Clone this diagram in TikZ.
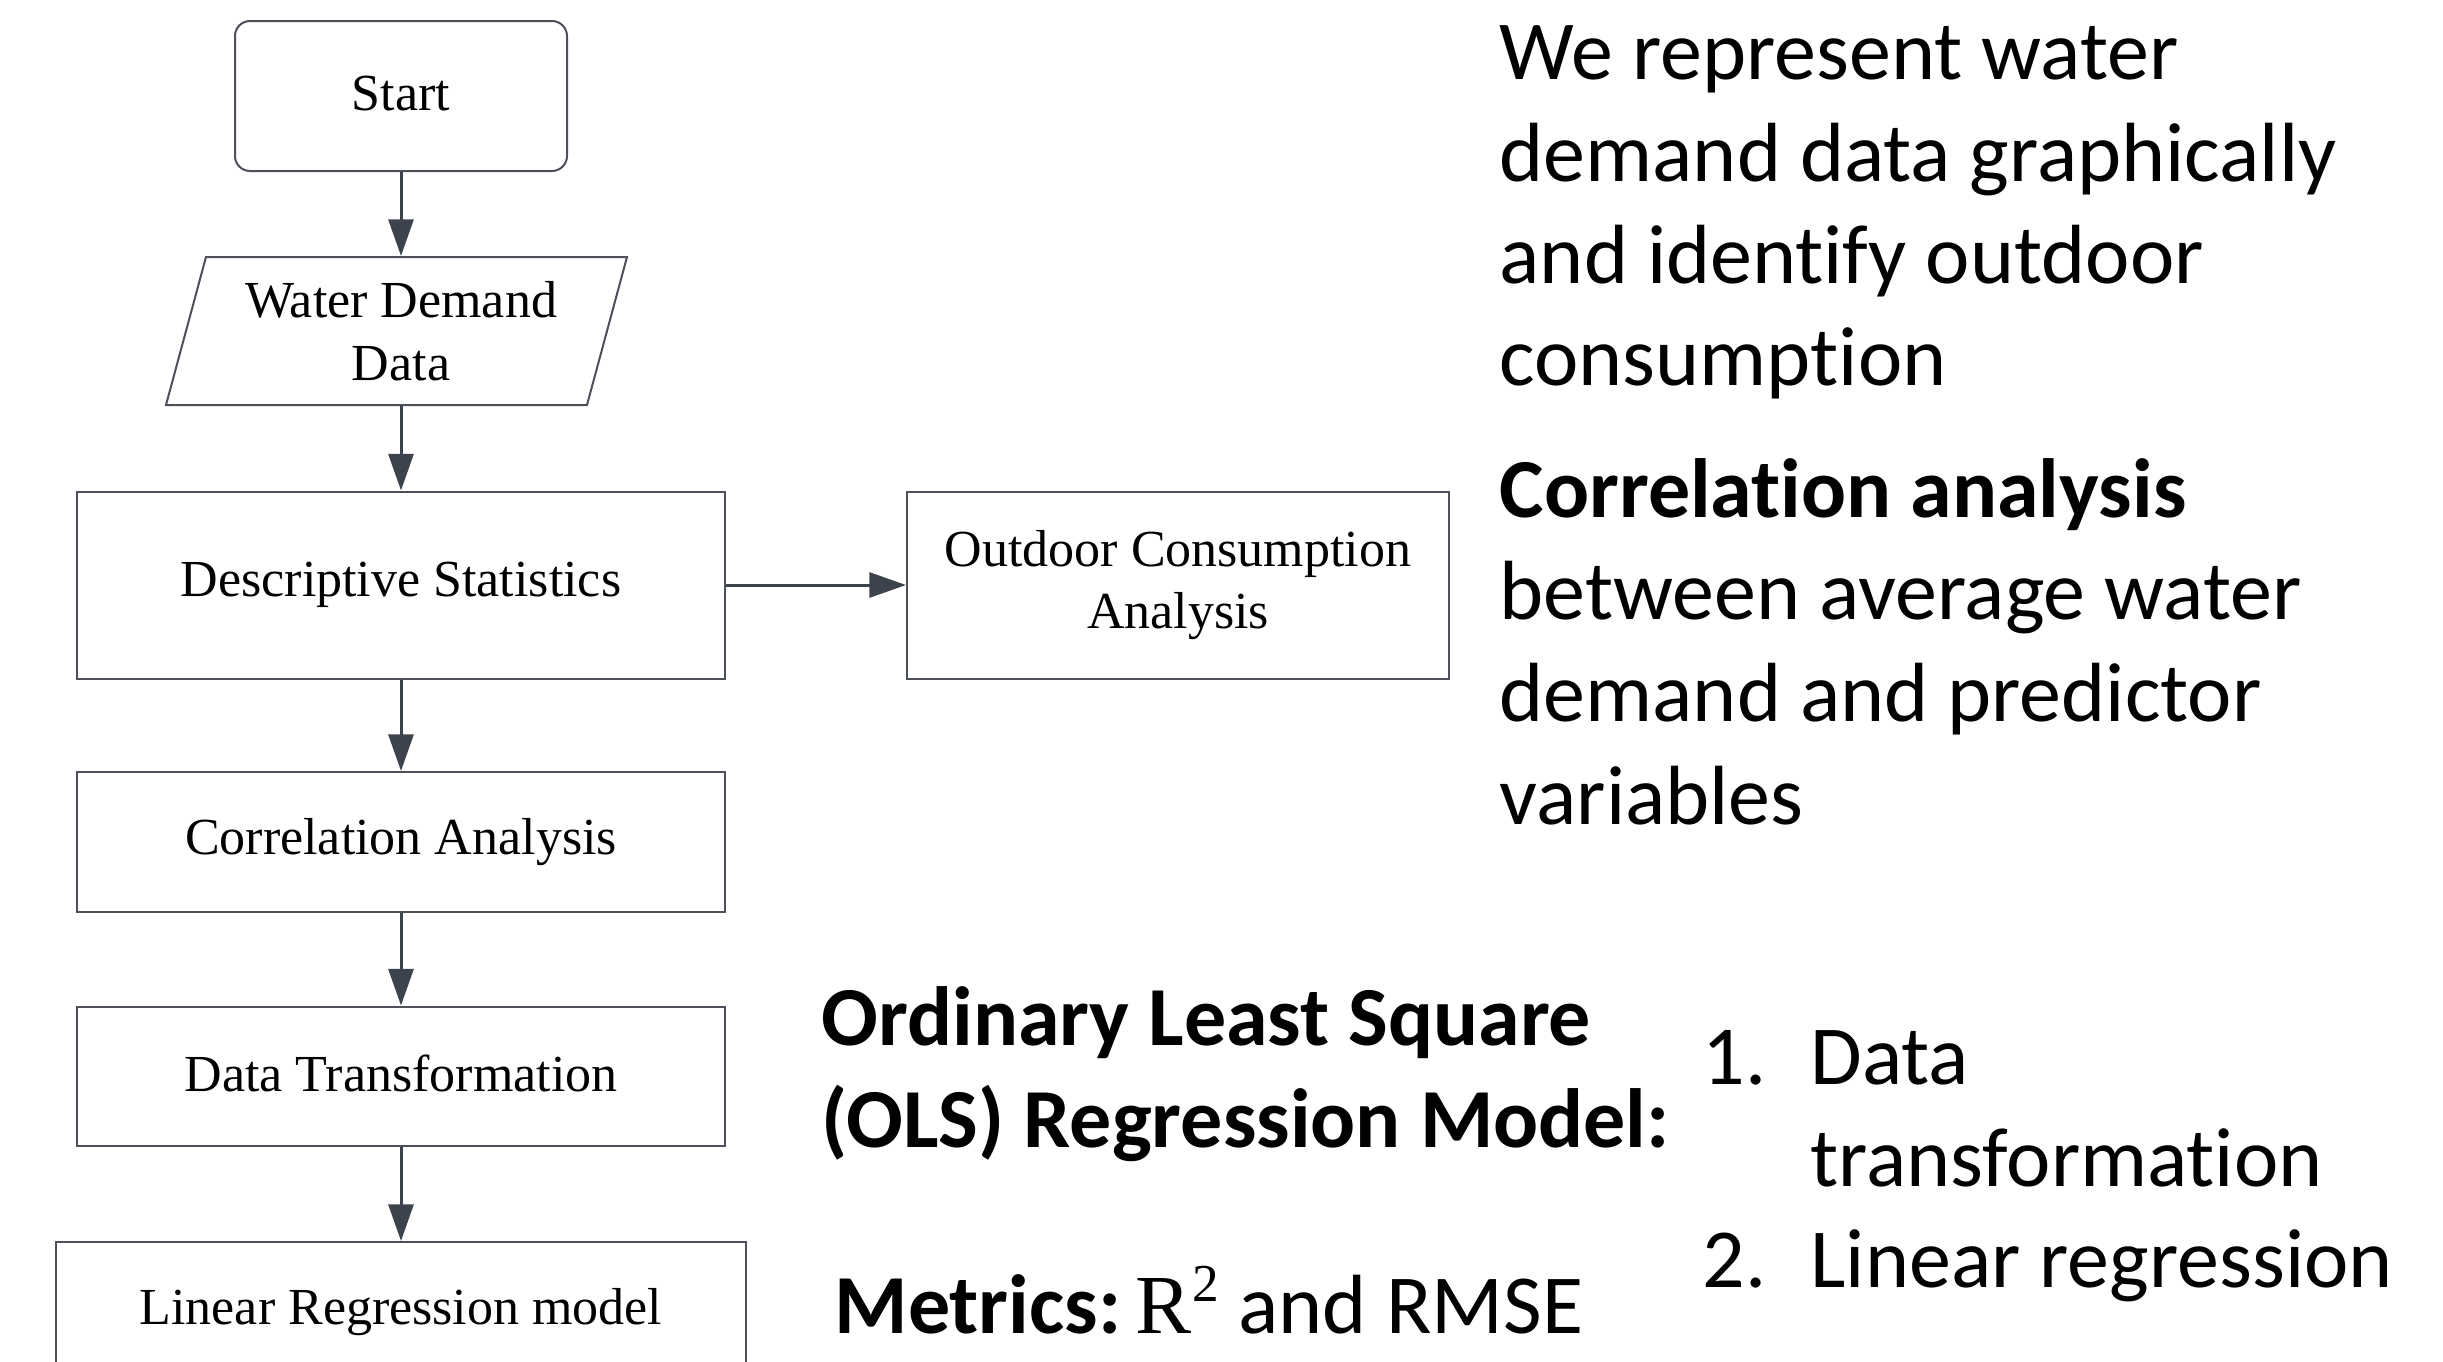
\documentclass[tikz,border=0pt]{standalone}
\usepackage{fontspec}
\setmainfont{Liberation Serif}
\newfontfamily\calibri[Ligatures={NoCommon}]{Carlito}
\usetikzlibrary{arrows.meta}
\definecolor{edge}{HTML}{3D434C}
\definecolor{frame}{HTML}{4B5059}
\begin{document}
\begin{tikzpicture}[x=0.3pt,y=-0.3pt,
  box/.style={draw=frame, line width=0.6pt, fill=white, inner sep=0pt, align=center,
    font=\fontsize{15.6pt}{18.8pt}\selectfont},
  flow/.style={draw=edge, line width=0.9pt, -{Triangle[length=11pt,width=7.5pt]}},
  note/.style={anchor=base west, inner sep=0pt, font=\calibri\fontsize{25.2pt}{30.6pt}\selectfont}]
\useasboundingbox (0,0) rectangle (2443,1361);
\clip (0,0) rectangle (2443,1361);

% flowchart
\node[box, rounded corners=4.5pt, minimum width=332*0.3pt, minimum height=150*0.3pt] (start) at (401,96) {\raisebox{1.5pt}{Start}};
\draw[frame, line width=0.6pt, fill=white] (206,257) -- (627,257) -- (587,405) -- (166,405) -- cycle;
\node[box, draw=none, fill=none, minimum width=380*0.3pt, minimum height=148*0.3pt] (wdd) at (401,331) {Water Demand\\Data};
\node[box, minimum width=648*0.3pt, minimum height=187*0.3pt] (desc) at (401,585) {Descriptive Statistics};
\node[box, minimum width=542*0.3pt, minimum height=187*0.3pt] (outd) at (1178,585) {Outdoor Consumption\\Analysis};
\node[box, minimum width=648*0.3pt, minimum height=140*0.3pt] (corr) at (401,842) {Correlation Analysis};
\node[box, minimum width=648*0.3pt, minimum height=139*0.3pt] (trans) at (401,1076) {\raisebox{1.5pt}{Data Transformation}};
\node[box, minimum width=690*0.3pt, minimum height=140*0.3pt] (lin) at (401,1312) {Linear Regression model};

\draw[flow] (start) -- (wdd);
\draw[flow] (wdd) -- (desc);
\draw[flow] (desc) -- (outd);
\draw[flow] (desc) -- (corr);
\draw[flow] (corr) -- (trans);
\draw[flow] (trans) -- (lin);

% explanatory notes
\node[note] (n1) at (1499,79) {We represent water};
\node[note] (n2) at (1499,181) {demand data graphically};
\node[note] (n3) at (1499,283) {and identify outdoor};
\node[note] (n4) at (1499,385) {consumption};
\node[note] (c1) at (1499,517) {\bfseries Correlation analysis};
\node[note] (c2) at (1499,619) {between average water};
\node[note] (c3) at (1499,721) {demand and predictor};
\node[note] (c4) at (1499,824) {variables};
\node[note] (o1) at (821,1045) {\bfseries Ordinary Least Square};
\node[note] (o2) at (821,1147) {\bfseries (OLS) Regression Model:};
\node[note] (l1) at (1702,1084) {1.};
\node[note] (l1a) at (1810,1084) {Data};
\node[note] (l1b) at (1810,1186) {transformation};
\node[note] (l2) at (1702,1287) {2.};
\node[note] (l2a) at (1810,1287) {Linear regression};
\node[note] (m) at (834,1333) {\textbf{Metrics:}\,{\rmfamily R\kern0.5pt\raisebox{9.5pt}{\fontsize{16pt}{16pt}\selectfont 2}} and RMSE};
\end{tikzpicture}
\end{document}
